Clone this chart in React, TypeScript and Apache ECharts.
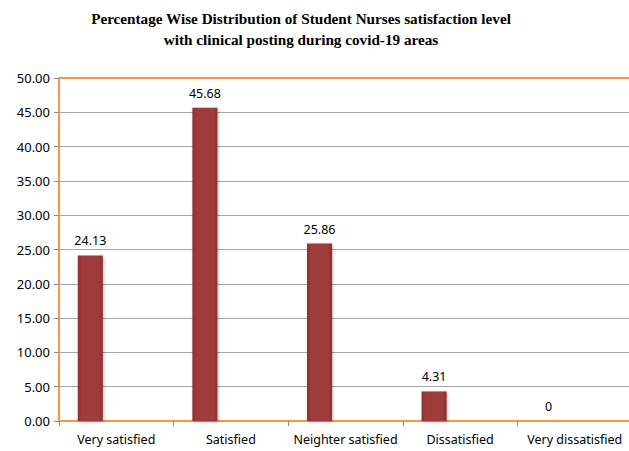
import React, { useEffect, useRef } from "react";
import * as echarts from "echarts";

const titleLines = [
  "Percentage Wise Distribution of Student Nurses satisfaction level",
  "with clinical posting during covid-19 areas",
];
const categories = [
  "Very satisfied",
  "Satisfied",
  "Neighter satisfied",
  "Dissatisfied",
  "Very dissatisfied",
];
const percentValues = [24.13, 45.68, 25.86, 4.31, 0];
const emptyValues = [null, null, null, null, null];
const axisMax = 50;

export default function App() {
  const ref = useRef<HTMLDivElement>(null);
  useEffect(() => {
    if (!ref.current) return;
    const chart = echarts.init(ref.current, null, { renderer: "svg" });
    chart.setOption({
      animation: false,
      backgroundColor: "#ffffff",
      title: {
        text: titleLines.join("\n"),
        left: 296,
        textAlign: "center",
        top: 3,
        textStyle: {
          fontFamily: "Liberation Serif",
          fontWeight: "bold",
          fontSize: 15.2,
          lineHeight: 21,
          color: "#000000",
        },
      },
      grid: {
        left: 59,
        top: 78,
        bottom: 30,
        right: 8,
        show: false,
      },
      xAxis: {
        type: "category",
        data: categories,
        axisLine: { show: true, onZero: true, lineStyle: { color: "#f79646", width: 2 } },
        axisTick: { show: true, length: 5, lineStyle: { color: "#888888" } },
        axisLabel: {
          interval: 0,
          color: "#000000",
          fontFamily: "Noto Sans",
          fontSize: 12.5,
          margin: 12,
        },
      },
      yAxis: {
        type: "value",
        min: 0,
        max: axisMax,
        interval: 5,
        axisLine: { show: true, lineStyle: { color: "#f79646", width: 2 } },
        axisTick: { show: true, length: 5, lineStyle: { color: "#888888" } },
        axisLabel: {
          color: "#000000",
          fontFamily: "Noto Sans",
          fontSize: 13,
          margin: 9,
          formatter: (v: number) => v.toFixed(2),
        },
        splitLine: { show: true, lineStyle: { color: "#a6a6a6", width: 1 } },
      },
      series: [
        {
          type: "bar",
          data: percentValues,
          barWidth: 25,
          barGap: "108%",
          itemStyle: {
            color: new echarts.graphic.LinearGradient(0, 0, 1, 0, [
              { offset: 0, color: "#8c2f2e" },
              { offset: 0.15, color: "#9e3b3a" },
              { offset: 0.85, color: "#9e3b3a" },
              { offset: 1, color: "#8c2f2e" },
            ]),
            shadowBlur: 3,
            shadowColor: "rgba(0,0,0,0.3)",
            shadowOffsetX: 1,
            shadowOffsetY: 1,
          },
          label: {
            show: true,
            position: "top",
            distance: 8,
            color: "#000000",
            fontFamily: "Noto Sans",
            fontSize: 12.5,
            formatter: (p: any) => String(p.value),
          },
          markLine: {
            silent: true,
            symbol: "none",
            label: { show: false },
            lineStyle: { color: "#f79646", width: 2, type: "solid" },
            data: [{ yAxis: axisMax }],
          },
        },
        {
          type: "bar",
          data: emptyValues,
          barWidth: 25,
          silent: true,
        },
      ],
    });
    return () => chart.dispose();
  }, []);
  return (
    <div
      ref={ref}
      style={{ position: "fixed", left: 0, top: 0, width: 640, height: 451 }}
    />
  );
}
